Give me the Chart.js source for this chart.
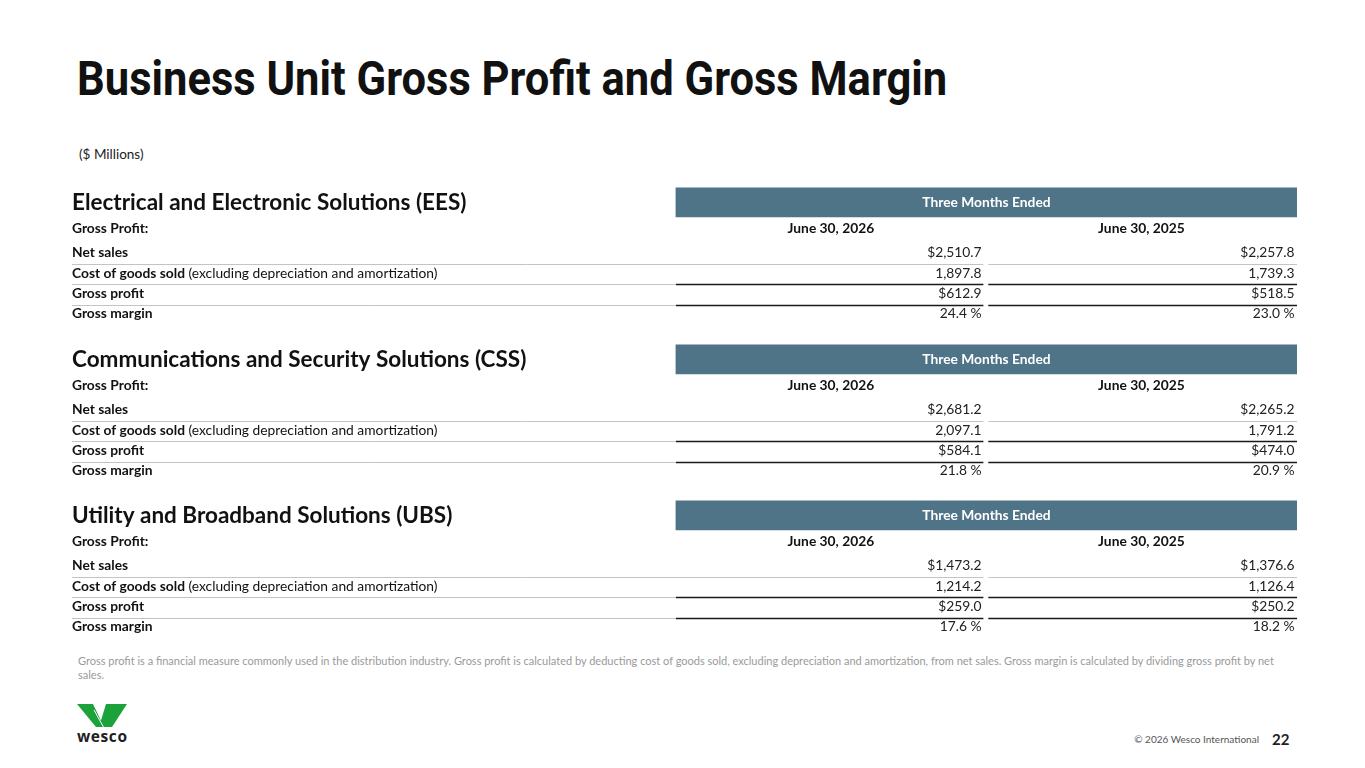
<!DOCTYPE html>
<html>
<head>
<meta charset="utf-8">
<title>Business Unit Gross Profit and Gross Margin</title>
<script src="https://cdn.jsdelivr.net/npm/chart.js@4.4.1/dist/chart.umd.min.js"></script>
<style>
  body { margin: 0; width: 1365px; height: 768px; background: #fff; position: relative; overflow: hidden; font-family: Lato, "Noto Sans", sans-serif; color: #111; }
  .title { position: absolute; left: 77px; top: 50px; margin: 0; font: 700 49px Roboto, sans-serif; color: #111; white-space: nowrap; transform: scaleX(0.888); transform-origin: 0 0; }
  .units { position: absolute; left: 79px; top: 146px; font-size: 13.5px; color: #222; }
  .section { position: absolute; left: 0; width: 1365px; height: 150px; }
  .note { position: absolute; left: 78px; top: 654px; font-size: 11px; line-height: 14px; color: #9a9a9a; }
  .logo { position: absolute; left: 77px; top: 704px; }
  .copy { position: absolute; right: 106px; top: 733px; font-size: 10px; color: #555; }
  .page { position: absolute; left: 1272px; top: 730px; font-weight: 700; font-size: 15px; color: #222; }
</style>
</head>
<body>
<h1 class="title">Business Unit Gross Profit and Gross Margin</h1>
<div class="units">($ Millions)</div>

<canvas class="section js-section" width="1365" height="150" style="top:180px"></canvas>
<canvas class="section js-section" width="1365" height="150" style="top:336.5px"></canvas>
<canvas class="section js-section" width="1365" height="150" style="top:493px"></canvas>

<div class="note">Gross profit is a financial measure commonly used in the distribution industry. Gross profit is calculated by deducting cost of goods sold, excluding depreciation and amortization, from net sales. Gross margin is calculated by dividing gross profit by net<br>sales.</div>

<svg class="logo" width="52" height="40" viewBox="0 0 52 40">
  <polygon points="0,0 16,0 27,23 19,23" fill="#1ba23a"/>
  <polygon points="29,0 50,0 35,23 22,23" fill="#1ba23a"/>
  <line x1="17" y1="6" x2="27" y2="24" stroke="#fff" stroke-width="1"/>
  <text x="0" y="38" font-family="Open Sans, sans-serif" font-weight="700" font-size="15.5" fill="#1e1e1e" textLength="50">wesco</text>
</svg>
<div class="copy">© 2026 Wesco International</div>
<div class="page">22</div>

<script>
// ---- data ----
const sectionNames = [
  "Electrical and Electronic Solutions (EES)",
  "Communications and Security Solutions (CSS)",
  "Utility and Broadband Solutions (UBS)"
];
const periodHeader = "Three Months Ended";
const periods = ["June 30, 2026", "June 30, 2025"];
const rowLabels = ["Net sales", "Cost of goods sold", "Gross profit", "Gross margin"];
const cogsNote = " (excluding depreciation and amortization)";

const eesCurrent = [2510.7, 1897.8, 612.9, 24.4];
const eesPrior   = [2257.8, 1739.3, 518.5, 23.0];
const cssCurrent = [2681.2, 2097.1, 584.1, 21.8];
const cssPrior   = [2265.2, 1791.2, 474.0, 20.9];
const ubsCurrent = [1473.2, 1214.2, 259.0, 17.6];
const ubsPrior   = [1376.6, 1126.4, 250.2, 18.2];

const sectionValues = [
  [eesCurrent, eesPrior],
  [cssCurrent, cssPrior],
  [ubsCurrent, ubsPrior]
];

// ---- layout (x in % of table width, y in row units) ----
const LABEL_END = 49.3;     // where the value columns start
const COL_SPLIT = 74.6;     // border between the two periods
const HEADER_ROW = -2.5;
const COLUMN_ROW = -1.2;

const TEXT = "#111111";
const BAR = "#4f7387";
const FONT = "Lato, 'Noto Sans', sans-serif";
const CELL = 13.8;

const money = function (v) {
  return "$" + v.toLocaleString("en-US", { minimumFractionDigits: 1, maximumFractionDigits: 1 });
};
const plain = function (v) {
  return v.toLocaleString("en-US", { minimumFractionDigits: 1, maximumFractionDigits: 1 });
};
const formatters = [money, plain, money, function (v) { return v.toFixed(1) + " %"; }];

const tablePlugin = {
  id: "tableText",
  afterDatasetsDraw(chart, args, opts) {
    const c = chart.ctx;
    const x = chart.scales.x;
    const y = chart.scales.y;
    const values = opts.values;
    c.save();
    c.textBaseline = "middle";

    // section heading
    c.fillStyle = TEXT;
    c.textAlign = "left";
    c.font = "700 22.5px " + FONT;
    c.fillText(opts.name, x.getPixelForValue(0), y.getPixelForValue(HEADER_ROW));

    // bar caption
    c.fillStyle = "#ffffff";
    c.textAlign = "center";
    c.font = "700 " + CELL + "px " + FONT;
    c.fillText(periodHeader, x.getPixelForValue((LABEL_END + 100) / 2), y.getPixelForValue(HEADER_ROW));

    // column header row
    c.fillStyle = TEXT;
    c.textAlign = "left";
    c.fillText("Gross Profit:", x.getPixelForValue(0), y.getPixelForValue(COLUMN_ROW));
    c.textAlign = "center";
    c.fillText(periods[0], x.getPixelForValue((LABEL_END + COL_SPLIT) / 2), y.getPixelForValue(COLUMN_ROW));
    c.fillText(periods[1], x.getPixelForValue((COL_SPLIT + 100) / 2), y.getPixelForValue(COLUMN_ROW));

    // rules between rows
    const rule = function (from, to, yy, color, w) {
      c.beginPath();
      c.strokeStyle = color;
      c.lineWidth = w;
      c.moveTo(x.getPixelForValue(from), yy);
      c.lineTo(x.getPixelForValue(to), yy);
      c.stroke();
    };
    for (let i = 0; i < rowLabels.length - 1; i++) {
      const yy = Math.round(y.getPixelForValue(i + 0.55)) + 0.5;
      const strong = i > 0;
      rule(0, strong ? LABEL_END : COL_SPLIT - 0.2, yy, "#c4c4c4", 1);
      if (strong) rule(LABEL_END, COL_SPLIT - 0.2, yy, "#1a1a1a", 1.5);
      rule(COL_SPLIT + 0.2, 100, yy, strong ? "#1a1a1a" : "#c4c4c4", strong ? 1.5 : 1);
    }

    // rows
    rowLabels.forEach(function (label, i) {
      const yy = y.getPixelForValue(i);
      c.textAlign = "left";
      c.font = "700 " + CELL + "px " + FONT;
      c.fillStyle = TEXT;
      c.fillText(label, x.getPixelForValue(0), yy);
      if (i === 1) {
        const w = c.measureText(label).width;
        c.font = "400 " + CELL + "px " + FONT;
        c.fillText(cogsNote, x.getPixelForValue(0) + w, yy);
      }
      c.font = "400 " + CELL + "px " + FONT;
      c.fillStyle = "#222222";
      c.textAlign = "right";
      c.fillText(formatters[i](values[0][i]), x.getPixelForValue(COL_SPLIT - 0.35), yy);
      c.fillText(formatters[i](values[1][i]), x.getPixelForValue(99.8), yy);
    });
    c.restore();
  }
};

const makeSection = function (canvas, index) {
  return new Chart(canvas.getContext("2d"), {
    type: "bar",
    data: {
      datasets: [{
        label: periodHeader,
        data: [{ x: [LABEL_END, 100], y: HEADER_ROW }],
        backgroundColor: BAR,
        barThickness: 29,
        borderWidth: 0
      }]
    },
    options: {
      indexAxis: "y",
      responsive: false,
      animation: false,
      events: [],
      layout: { padding: { left: 72, right: 68, top: 0, bottom: 0 } },
      scales: {
        x: { type: "linear", min: 0, max: 100, display: false, offset: false },
        y: { type: "linear", min: -3.6, max: 3.8, reverse: true, display: false, offset: false }
      },
      plugins: {
        legend: { display: false },
        tooltip: { enabled: false },
        tableText: { name: sectionNames[index], values: sectionValues[index] }
      }
    },
    plugins: [tablePlugin]
  });
};

document.addEventListener("DOMContentLoaded", function () {
  const canvases = document.querySelectorAll(".js-section");
  canvases.forEach(function (cv, i) { makeSection(cv, i); });
});
</script>
</body>
</html>
